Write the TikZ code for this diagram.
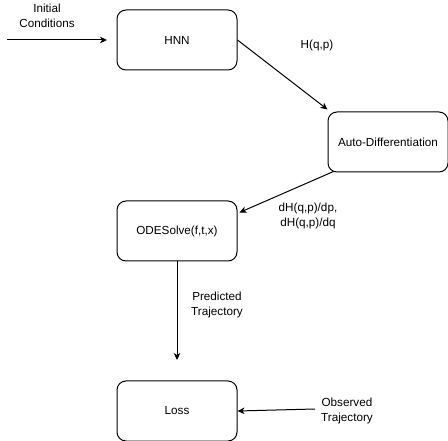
\documentclass[tikz,border=0pt]{standalone}
\usepackage{fontspec}
\setmainfont{Liberation Sans}
\usepackage{tikz}
\usetikzlibrary{positioning, arrows.meta}

\begin{document}
\begin{tikzpicture}[
    x=1pt, y=-1pt,
    font=\fontsize{11.7}{14.5}\selectfont,
    box/.style={rectangle, draw=black, line width=1pt, minimum width=120pt, minimum height=60pt, text centered, rounded corners=9pt},
    label/.style={align=center, inner sep=0pt},
    arrow/.style={-{Stealth[length=7pt, width=6.5pt, inset=2pt]}, line width=1pt, color=black}
]
\useasboundingbox (0,0) rectangle (448,441);

% Network
\node[box] (hnn) at (177,40) {HNN};

% Gradients
\node[box, below right=41pt and 90pt of hnn] (autodiff) {Auto-Differentiation};

% Integrator
\node[box, below=130pt of hnn] (odesolve) {ODESolve(f,t,x)};

% Objective
\node[box, below=119pt of odesolve] (loss) {Loss};

% Free ends
\coordinate (initstart) at (7,40);
\coordinate (initend) at (107,40);
\coordinate (predend) at (177,360);
\coordinate (obsstart) at (315,409);

% Labels
\node[label] (initlbl) at (47,16) {Initial\\Conditions};
\node[label] (hamlbl) at (317,45) {H(q,p)};
\node[label] (gradlbl) at (308,216) {dH(q,p)/dp,\\dH(q,p)/dq};
\node[label] (predlbl) at (217,305) {Predicted\\Trajectory};
\node[label] (obslbl) at (347,411) {Observed\\Trajectory};

% Arrows
\draw[arrow] (initstart) -- (initend);
\draw[arrow] (hnn.east) -- ([yshift=2pt]autodiff.north west);
\draw[arrow] ([xshift=6pt, yshift=1pt]autodiff.south west) -- ([yshift=-12pt, xshift=2pt]odesolve.north east);
\draw[arrow] (odesolve.south) -- (predend);
\draw[arrow] (obsstart) -- (loss.east);

\end{tikzpicture}
\end{document}
